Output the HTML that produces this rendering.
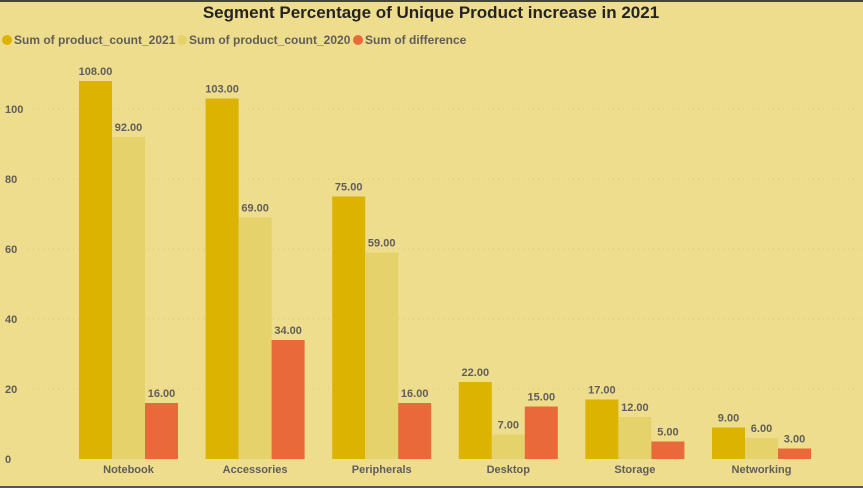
<!DOCTYPE html>
<html><head><meta charset="utf-8"><style>
html,body{margin:0;padding:0;background:#EEDD8C;}
svg{display:block;font-family:"Liberation Sans",sans-serif;}
</style></head><body>
<svg id="chart" width="863" height="488">
<rect x="0" y="0" width="863" height="488" fill="#EEDD8C"/>
<rect x="0" y="0" width="863" height="2" fill="#444"/>
<rect x="0" y="486" width="863" height="2" fill="#555"/>
<text x="431" y="18" text-anchor="middle" font-size="17" font-weight="bold" fill="#252423">Segment Percentage of Unique Product increase in 2021</text>
<g>
<circle cx="7" cy="40" r="5" fill="#DBB300"/>
<text x="14" y="44" font-size="12" font-weight="bold" fill="#605E5C">Sum of product_count_2021</text>
<circle cx="182" cy="40" r="5" fill="#E6D26A"/>
<text x="189" y="44" font-size="12" font-weight="bold" fill="#605E5C">Sum of product_count_2020</text>
<circle cx="358" cy="40" r="5" fill="#E8693A"/>
<text x="365" y="44" font-size="12" font-weight="bold" fill="#605E5C">Sum of difference</text>
</g>
<g id="grid"></g><g id="bars"></g><g id="labels"></g><g id="xaxis"></g>
</svg>
<script>
const categories=["Notebook","Accessories","Peripherals","Desktop","Storage","Networking"];
const values2021=[108,103,75,22,17,9];
const values2020=[92,69,59,7,12,6];
const valuesDiff=[16,34,16,15,5,3];
const yTicks=[0,20,40,60,80,100];
const colors=["#DBB300","#E6D26A","#E8693A"];
const seriesNames=["2021","2020","difference"];
const series=[values2021,values2020,valuesDiff];
const ns="http://www.w3.org/2000/svg";
const y0=459,pxPer=3.5;
function y(v){return y0-v*pxPer;}
const firstCenter=128.5,step=126.6,bw=33;
function xc(i){return firstCenter+i*step;}
function mk(t,a,p){const e=document.createElementNS(ns,t);for(const k in a)e.setAttribute(k,a[k]);p.appendChild(e);return e;}
const grid=document.getElementById('grid'),bars=document.getElementById('bars'),labels=document.getElementById('labels'),xa=document.getElementById('xaxis');
yTicks.forEach(t=>{
 if(t>0){const l=mk('line',{x1:28,x2:860,y1:y(t),y2:y(t),stroke:'#D8C880','stroke-dasharray':'1,4','stroke-width':1},grid);
 
 }
 const tx=mk('text',{x:5,y:y(t)+4,'font-size':11,'font-weight':'bold',fill:'#605E5C'},grid);
 tx.textContent=t;
 
 
});
categories.forEach((c,i)=>{
 series.forEach((s,j)=>{
  const x=xc(i)-1.5*bw+j*bw;
  const r=mk('rect',{x:x,y:y(s[i]),width:bw,height:s[i]*pxPer,fill:colors[j]},bars);
  
  
  const t=mk('text',{x:x+bw/2,y:y(s[i])-6,'text-anchor':'middle','font-size':11,'font-weight':'bold',fill:'#605E5C'},labels);
  t.textContent=s[i].toFixed(2);
  
  
 });
 const t=mk('text',{x:xc(i),y:473,'text-anchor':'middle','font-size':11,'font-weight':'bold',fill:'#605E5C'},xa);
 t.textContent=c;
 
 
});
</script>
</body></html>
